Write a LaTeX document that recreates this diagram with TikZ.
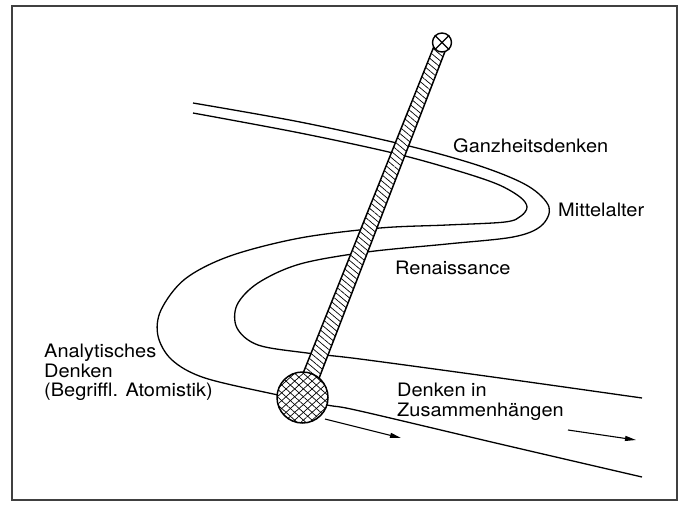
\documentclass[tikz,border=0pt]{standalone}
\usepackage{fontspec}
\setmainfont{TeX Gyre Heros}[FakeStretch=1.08]
\usetikzlibrary{arrows.meta,patterns.meta,calc}
\begin{document}
\begin{tikzpicture}[x=1pt,y=-1pt,
  curve/.style={line width=1.3pt, line join=round},
  lbl/.style={font=\fontsize{18.5}{21}\selectfont, anchor=base west, inner sep=0pt},
  flow/.style={line width=1.1pt, -{Triangle[length=11pt,width=5pt]}},
  rodedge/.style={line width=1.5pt}]
\useasboundingbox (0,0) rectangle (682,506);
\draw[line width=1.5pt, black!75] (12,6) rectangle (677,500);

% winding road: upper line (inner loop on the left)
\draw[curve] plot[smooth, tension=0.55] coordinates {
 (193,103) (300,122) (405,145) (480,166) (528,186) (549,207) (541,226)
 (513,237) (447,244) (367,252) (300,264) (258,283) (237,305) (237,328)
 (258,345) (307,353) (360,359) (500,378) (642,398)};
% lower line (outer loop on the left)
\draw[curve] plot[smooth, tension=0.55] coordinates {
 (193,113) (300,133) (393,153) (455,170) (497,184) (520,197) (527,207)
 (521,216) (505,222) (447,225) (380,228) (300,238) (230,256) (185,279)
 (161,310) (158,336) (172,360) (205,378) (278,395)
 (327,405) (360,411) (500,444) (642,477)};

% pendulum
\coordinate (P) at (442,42.5);
\coordinate (B) at (302.5,397.5);
\coordinate (r1) at ($(P)!6pt!90:(B)$);
\coordinate (r2) at ($(P)!6pt!-90:(B)$);
\coordinate (r3) at ($(B)!8.5pt!90:(P)$);
\coordinate (r4) at ($(B)!8.5pt!-90:(P)$);
\fill[white] (r1) -- (r4) -- (r3) -- (r2) -- cycle;
\path[pattern={Lines[angle=-40,distance=4.8pt,line width=0.7pt]}] (r1) -- (r4) -- (r3) -- (r2) -- cycle;
\draw[rodedge] (r1) -- (r4) (r2) -- (r3);

\node[circle, draw, line width=1.5pt, minimum size=51pt, inner sep=0pt,
  preaction={fill=white},
  preaction={pattern={Lines[angle=42,distance=5.8pt,line width=0.7pt]}},
  pattern={Lines[angle=-42,distance=5.8pt,line width=0.7pt]}] (bob) at (B) {};
\node[circle, draw, fill=white, line width=1.4pt, minimum size=19pt, inner sep=0pt] (piv) at (P) {};
\draw[line width=1.2pt] (piv.north east) -- (piv.south west) (piv.north west) -- (piv.south east);

% arrows
\coordinate (a1s) at (325,419);
\coordinate (a1e) at (401,438);
\coordinate (a2s) at (568,430);
\coordinate (a2e) at (636,440);
\draw[flow] (a1s) -- (a1e);
\draw[flow] (a2s) -- (a2e);

% labels
\node[lbl] (ganz) at (453,152) {Ganzheitsdenken};
\node[lbl] (mitt) at (558,216) {Mittelalter};
\node[lbl] (ren) at (395,274) {Renaissance};
\node[lbl] (an1) at (44,357) {Analytisches};
\node[lbl] (an2) at (44,377) {Denken};
\node[lbl] (an3) at (44,396) {(Begriffl. Atomistik)};
\node[lbl] (dz1) at (397,396) {Denken in};
\node[lbl] (dz2) at (397,416) {Zusammenhängen};
\end{tikzpicture}
\end{document}
